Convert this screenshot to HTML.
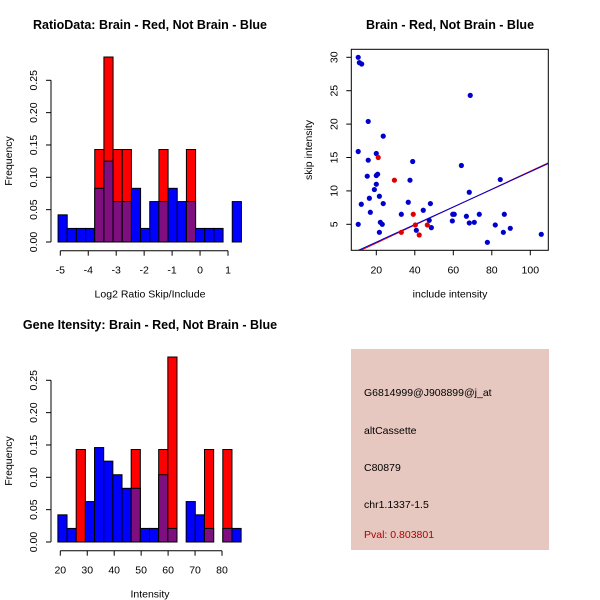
<!DOCTYPE html>
<html><head><meta charset="utf-8"><style>
html,body{margin:0;padding:0;background:#fff;}
svg{display:block;font-family:"Liberation Sans",sans-serif;}
</style></head><body>
<svg id="c" width="600" height="600" xmlns="http://www.w3.org/2000/svg">
<rect x="0" y="0" width="600" height="600" fill="#fff"/>
<text x="150" y="29" text-anchor="middle" font-weight="bold" font-size="12.5">RatioData: Brain - Red, Not Brain - Blue</text>
<text x="450" y="29" text-anchor="middle" font-weight="bold" font-size="12.5">Brain - Red, Not Brain - Blue</text>
<text x="150" y="329" text-anchor="middle" font-weight="bold" font-size="12.5">Gene Itensity: Brain - Red, Not Brain - Blue</text>
<g>
<rect x="351" y="349" width="198" height="201" fill="#e6c8c0"/>
<text x="364" y="396" font-size="10.5">G6814999@J908899@j_at</text>
<text x="364" y="434" font-size="10.5">altCassette</text>
<text x="364" y="471" font-size="10.5">C80879</text>
<text x="364" y="508" font-size="10.5">chr1.1337-1.5</text>
<text x="364" y="538" font-size="10.5" fill="#b00000">Pval: 0.803801</text>
</g>
</svg>
<script>
// ---- Ratio histogram data ----
const ratioBinStart = -5.08;
const ratioBinWidth = 0.328;
const ratioBlue = [0.042,0.021,0.021,0.021,0.083,0.125,0.0625,0.0625,0.083,0.021,0.0625,0.0625,0.083,0.0625,0.0625,0.021,0.021,0.021,0,0.0625];
const ratioRed  = [0,0,0,0,0.143,0.286,0.143,0.143,0,0,0,0.143,0,0,0.143,0,0,0,0,0];
const ratioXTicks = [-5,-4,-3,-2,-1,0,1];
// ---- Intensity histogram data ----
const intBinStart = 19.1;
const intBinWidth = 3.4;
const intBlue = [0.042,0.021,0,0.0625,0.146,0.125,0.104,0.083,0.083,0.021,0.021,0.104,0.021,0,0.0625,0.042,0.021,0,0.021,0.021];
const intRed  = [0,0,0.143,0,0,0,0,0,0.143,0,0,0.143,0.286,0,0,0,0.143,0,0.143,0];
const intXTicks = [20,30,40,50,60,70,80];
const freqTicks = [0,0.05,0.10,0.15,0.20,0.25];
const freqLabels = ["0.00","0.05","0.10","0.15","0.20","0.25"];
// ---- Scatter data ----
const blueX = [10.6,11.2,12.4,15.8,23.6,10.6,20,15.8,15.3,20.7,20,20,19,16.4,21.6,12.2,23.6,16.9,22.1,23.1,10.6,21.6,38.9,37.5,36.6,33,44.4,48.1,47.5,48.6,40.8,68.8,64.2,68.3,84.4,59.7,60.5,59.5,66.8,68.3,70.9,73.5,86.5,81.8,86,89.6,77.7,105.7];
const blueY = [30,29.2,29.0,20.4,18.2,15.9,15.6,14.6,12.2,12.5,12.3,11.0,10.2,8.9,9.2,8.0,8.1,6.8,5.3,5.0,5.0,3.8,14.4,11.6,8.3,6.5,7.1,8.1,5.6,4.5,4.1,24.3,13.8,9.8,11.7,6.5,6.5,5.5,6.2,5.2,5.3,6.5,6.5,4.9,3.8,4.4,2.3,3.5];
const redX = [21,29.4,39.2,40.3,33,42.3,46.5];
const redY = [15.0,11.6,6.5,4.9,3.8,3.4,4.9];
const blueFit = [-0.3,0.1316];
const redFit = [-0.5,0.1345];
const scXTicks = [20,40,60,80,100];
const scYTicks = [5,10,15,20,25,30];

const NS="http://www.w3.org/2000/svg";
const svg=document.getElementById('c');
const FS=10.5;
function mk(tag,attrs,parent){const e=document.createElementNS(NS,tag);for(const k in attrs)e.setAttribute(k,attrs[k]);(parent||svg).appendChild(e);return e;}

function hist(opts){
  const g=mk('g',{});
  
  
  const sx=v=>opts.x0+(v-opts.xv0)*opts.kx;
  const sy=v=>opts.y0-v*opts.ky;
  for(let i=0;i<opts.blue.length;i++){
    const a=sx(opts.start+i*opts.w), b=sx(opts.start+(i+1)*opts.w);
    const r=opts.red[i], bl=opts.blue[i];
    if(r>0){const e=mk('rect',{x:a,y:sy(r),width:b-a,height:sy(0)-sy(r),fill:'#ff0000',stroke:'#000','stroke-width':1},g);
      }
    if(bl>0){const e=mk('rect',{x:a,y:sy(bl),width:b-a,height:sy(0)-sy(bl),fill:r>0?'#7f0f7f':'#0000ff',stroke:'#000','stroke-width':1},g);
      }
  }
  mk('line',{x1:opts.axX,x2:opts.axX,y1:sy(0),y2:sy(0.25),stroke:'#000'},g);
  freqTicks.forEach((t,i)=>{
    mk('line',{x1:opts.axX-5,x2:opts.axX,y1:sy(t),y2:sy(t),stroke:'#000'},g);
    const tx=mk('text',{x:0,y:0,'font-size':FS,'text-anchor':'middle',transform:`translate(${opts.axX-14},${sy(t)}) rotate(-90)`},g);
    tx.textContent=freqLabels[i];
    
  });
  const xt=opts.ticks;
  mk('line',{x1:sx(xt[0]),x2:sx(xt[xt.length-1]),y1:opts.axY,y2:opts.axY,stroke:'#000'},g);
  xt.forEach(t=>{
    mk('line',{x1:sx(t),x2:sx(t),y1:opts.axY,y2:opts.axY+5,stroke:'#000'},g);
    const tx=mk('text',{x:sx(t),y:opts.axY+23,'font-size':FS,'text-anchor':'middle'},g);
    tx.textContent=t;
    
  });
  const xl=mk('text',{x:150,y:opts.axY+47,'font-size':FS,'text-anchor':'middle'},g);xl.textContent=opts.xlabel;
  
  const yl=mk('text',{x:0,y:0,'font-size':FS,'text-anchor':'middle',transform:`translate(12,${opts.y0-81}) rotate(-90)`},g);yl.textContent='Frequency';
  
}
hist({name:'ratio-histogram',blue:ratioBlue,red:ratioRed,start:ratioBinStart,w:ratioBinWidth,x0:60.3,xv0:-5,kx:27.95,y0:242,ky:646.8,axX:51,axY:250.7,ticks:ratioXTicks,xlabel:'Log2 Ratio Skip/Include'});
hist({name:'intensity-histogram',blue:intBlue,red:intRed,start:intBinStart,w:intBinWidth,x0:60.3,xv0:20,kx:2.695,y0:542,ky:646.8,axX:51,axY:550.7,ticks:intXTicks,xlabel:'Intensity'});

(function(){
  const g=mk('g',{});
  
  
  const L=351.3,R=548.3,T=49.3,B=250.3;
  const sx=v=>337.8+v*1.925, sy=v=>257.7-v*6.68;
  mk('clipPath',{id:'clp'},g);
  mk('rect',{x:L,y:T,width:R-L,height:B-T},g.lastChild);
  const xmin=(L-337.8)/1.925, xmax=(R-337.8)/1.925;
  [[redFit,'#dd0000'],[blueFit,'#0000cc']].forEach(([f,c])=>{
    const ln=mk('line',{x1:sx(xmin),y1:sy(f[0]+f[1]*xmin),x2:sx(xmax),y2:sy(f[0]+f[1]*xmax),stroke:c,'stroke-width':1,'clip-path':'url(#clp)'},g);
    
  });
  blueX.forEach((x,i)=>{const p=mk('circle',{cx:sx(x),cy:sy(blueY[i]),r:2.6,fill:'#0000cc'},g);
    });
  redX.forEach((x,i)=>{const p=mk('circle',{cx:sx(x),cy:sy(redY[i]),r:2.6,fill:'#dd0000'},g);
    });
  mk('rect',{x:L,y:T,width:R-L,height:B-T,fill:'none',stroke:'#000'},g);
  scXTicks.forEach(t=>{
    mk('line',{x1:sx(t),x2:sx(t),y1:B,y2:B+5,stroke:'#000'},g);
    const tx=mk('text',{x:sx(t),y:B+23,'font-size':FS,'text-anchor':'middle'},g);tx.textContent=t;
    
  });
  scYTicks.forEach(t=>{
    mk('line',{x1:L-5,x2:L,y1:sy(t),y2:sy(t),stroke:'#000'},g);
    const tx=mk('text',{x:0,y:0,'font-size':FS,'text-anchor':'middle',transform:`translate(${L-14},${sy(t)}) rotate(-90)`},g);tx.textContent=t;
    
  });
  const xl=mk('text',{x:450,y:B+47,'font-size':FS,'text-anchor':'middle'},g);xl.textContent='include intensity';
  
  const yl=mk('text',{x:0,y:0,'font-size':FS,'text-anchor':'middle',transform:`translate(312,150) rotate(-90)`},g);yl.textContent='skip intensity';
  
})();
</script>
</body></html>
